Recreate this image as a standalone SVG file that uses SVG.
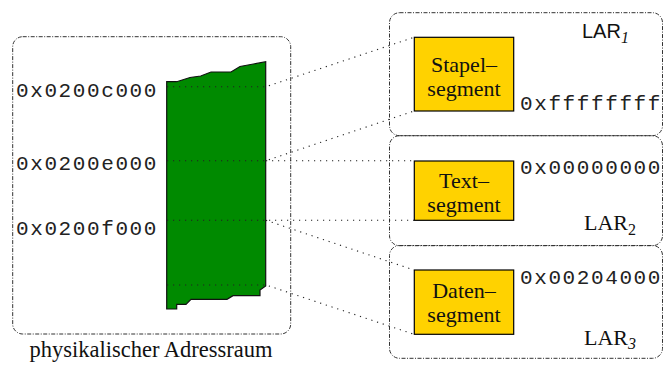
<svg xmlns="http://www.w3.org/2000/svg" width="664" height="365" viewBox="0 0 664 365">
<style>
.frame{fill:none;stroke:#333;stroke-width:1;stroke-dasharray:4 1.5 1 1.5}
.seg{fill:#ffd200;stroke:#000;stroke-width:1.2}
.dot{fill:none;stroke:#222;stroke-width:1.1;stroke-dasharray:1.2 4.8}
.mono{font-family:"Liberation Mono",monospace;font-size:21px;letter-spacing:1.6px;fill:#222}
.serif{font-family:"Liberation Serif","Times New Roman",serif;fill:#111}
.sans{font-family:"Liberation Sans",Arial,sans-serif;fill:#111}
</style>
<rect width="664" height="365" fill="#fff"/>
<g id="phys">
<rect class="frame" x="12.7" y="36.7" width="278" height="297.3" rx="10"/>
<path d="M166.7,309 L166.7,81.7 L176.7,81.7 L190,77.5 L200.7,76 L211,72 L231,72 L240,66.5 L265.7,61.7 L265.7,286 L260,290 L260,295.7 L233,295.7 L227,299.3 L191,299.3 L186,304.3 L176.7,304.3 L176.7,309 Z" fill="#008a00" stroke="#111" stroke-width="1.2"/>
<text class="mono" x="16" y="96.7">0x0200c000</text>
<text class="mono" x="16" y="170">0x0200e000</text>
<text class="mono" x="16" y="235">0x0200f000</text>
<text class="serif" x="151" y="357" font-size="22.5" text-anchor="middle">physikalischer Adressraum</text>
</g>
<g id="lar1">
<rect class="frame" x="389.5" y="12.7" width="273" height="123" rx="10"/>
<text class="sans" x="582" y="38.3" font-size="20">LAR<tspan class="serif" font-style="italic" font-size="16" dy="4.5">1</tspan></text>
<text class="mono" x="520" y="110">0xffffffff</text>
</g>
<g id="stapel">
<rect class="seg" x="414.3" y="37.3" width="99.4" height="73.7"/>
<text class="serif" font-size="22" text-anchor="middle"><tspan x="464" y="71.5">Stapel–</tspan><tspan x="464" y="96">segment</tspan></text>
</g>
<g id="lar2">
<rect class="frame" x="389.5" y="135.7" width="273" height="110" rx="10"/>
<text class="mono" x="520" y="174.3">0x00000000</text>
<text class="serif" x="584" y="230" font-size="22">LAR<tspan font-size="16" dy="5">2</tspan></text>
</g>
<g id="text">
<rect class="seg" x="414.3" y="161" width="99.4" height="59.3"/>
<text class="serif" font-size="22" text-anchor="middle"><tspan x="464" y="187.5">Text–</tspan><tspan x="464" y="212">segment</tspan></text>
</g>
<g id="lar3">
<rect class="frame" x="389.5" y="245.5" width="273" height="112.8" rx="10"/>
<text class="mono" x="520" y="284.3">0x00204000</text>
<text class="serif" x="584" y="345" font-size="22">LAR<tspan font-size="16" font-style="italic" dy="4">3</tspan></text>
</g>
<g id="daten">
<rect class="seg" x="414.3" y="270" width="99.4" height="64.3"/>
<text class="serif" font-size="22" text-anchor="middle"><tspan x="464" y="297.5">Daten–</tspan><tspan x="464" y="322">segment</tspan></text>
</g>
<g id="connectors">
<path class="dot" d="M167,86.7 H266 L414,37.3"/>
<path class="dot" d="M167,160.7 H266 L414,111"/>
<path class="dot" d="M266,160.7 H414"/>
<path class="dot" d="M167,220.3 H414"/>
<path class="dot" d="M266,220.3 L414,270"/>
<path class="dot" d="M167,285 H266 L414,334.3"/>
</g>
</svg>
